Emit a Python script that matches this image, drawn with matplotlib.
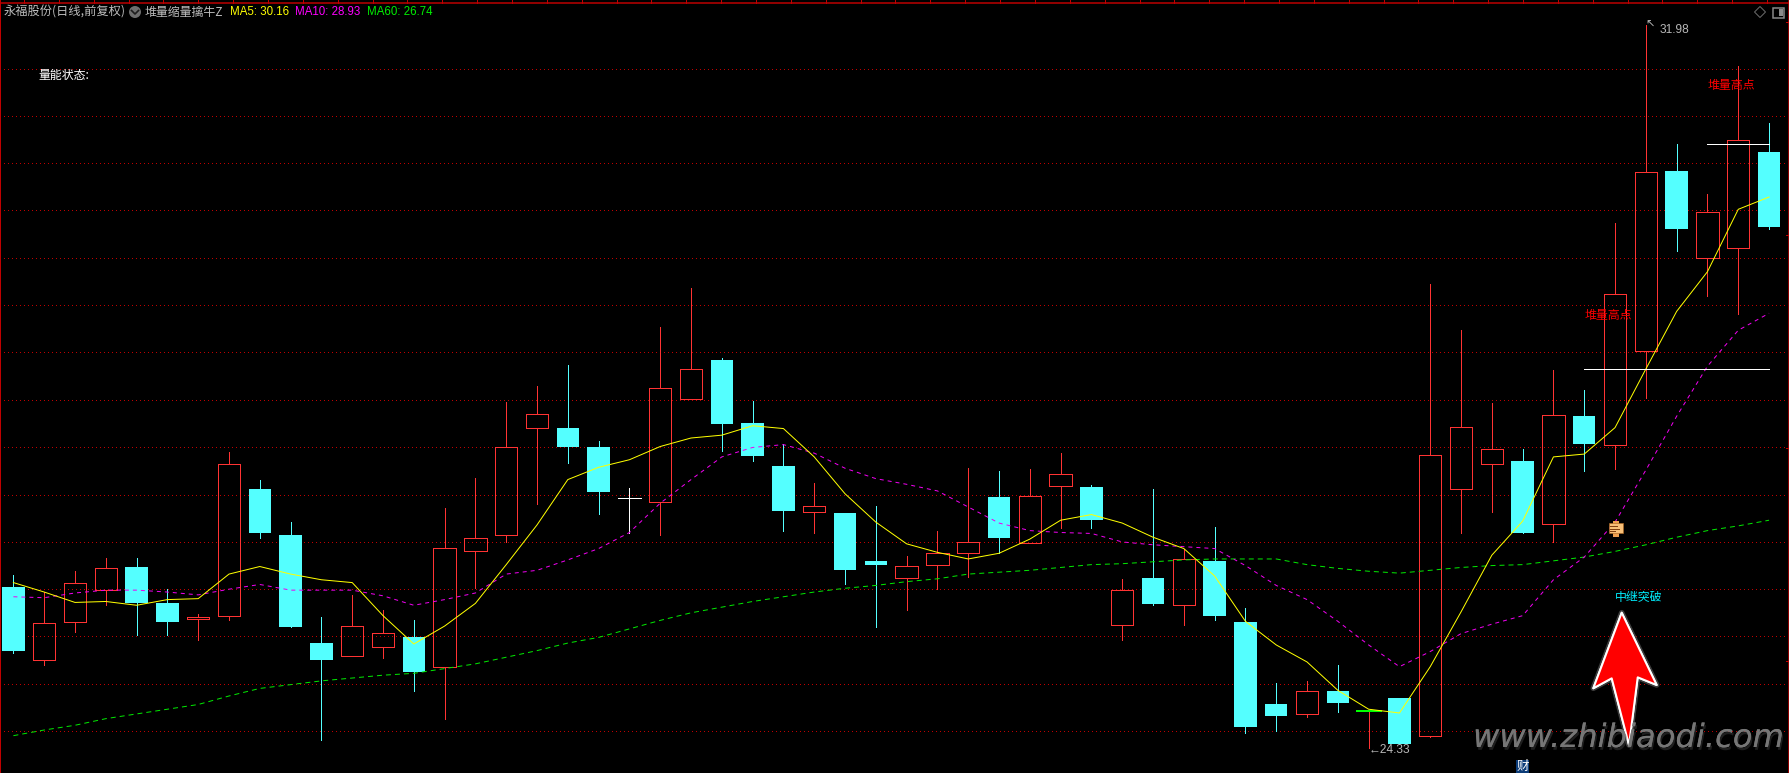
import matplotlib
matplotlib.use("Agg")
import matplotlib.pyplot as plt
import matplotlib.patheffects as pe
from matplotlib.patches import Circle, Polygon, Rectangle
import numpy as np

plt.rcParams['font.family'] = ['Noto Sans CJK SC', 'DejaVu Sans']

# daily bars (body top / body bottom, up = hollow red)
highs = [26.16, 25.98, 26.20, 26.34, 26.34, 26.01, 25.75, 27.46, 27.17, 26.72,
         25.72, 25.95, 25.79, 25.68, 26.87, 27.19, 27.99, 28.16, 28.38, 27.58,
         27.08, 28.78, 29.20, 28.46, 28.00, 27.55, 27.13, 26.82, 26.89, 26.36,
         26.63, 27.29, 27.26, 27.28, 27.45, 27.11, 26.12, 27.07, 26.44, 26.67,
         25.81, 25.02, 25.04, 25.21, 24.72, 24.86, 29.24, 28.75, 27.98, 27.49,
         28.33, 28.12, 29.88, 31.98, 30.72, 30.19, 31.55, 30.94]
body_top = [26.03, 25.65, 26.08, 26.23, 26.25, 25.86, 25.72, 27.34, 27.07, 26.58,
            25.44, 25.62, 25.55, 25.50, 26.45, 26.55, 27.51, 27.86, 27.72, 27.52,
            26.98, 28.14, 28.34, 28.44, 27.77, 27.31, 26.89, 26.82, 26.31, 26.26,
            26.39, 26.51, 26.99, 27.00, 27.23, 27.09, 26.00, 26.13, 26.33, 26.31,
            25.66, 24.80, 24.93, 24.93, 24.72, 24.86, 27.43, 27.73, 27.49, 27.37,
            27.85, 27.84, 29.13, 30.43, 30.44, 30.00, 30.76, 30.64]
body_bot = [25.36, 25.26, 25.66, 26.00, 25.86, 25.66, 25.69, 25.73, 26.60, 25.61,
            25.26, 25.30, 25.40, 25.13, 25.19, 26.41, 26.58, 27.72, 27.52, 27.04,
            26.98, 26.93, 28.02, 27.76, 27.42, 26.84, 26.83, 26.21, 26.27, 26.13,
            26.27, 26.39, 26.55, 26.50, 27.10, 26.74, 25.63, 25.85, 25.84, 25.73,
            24.55, 24.67, 24.69, 24.81, 24.72, 24.37, 24.46, 27.07, 27.34, 26.60,
            26.70, 27.55, 27.54, 28.53, 29.82, 29.51, 29.62, 29.84]
lows = [25.33, 25.21, 25.56, 25.84, 25.53, 25.53, 25.47, 25.68, 26.55, 25.61,
        24.41, 25.30, 25.28, 24.93, 24.64, 26.02, 26.51, 26.91, 27.35, 26.81,
        26.60, 26.58, 28.02, 27.47, 27.37, 26.63, 26.60, 26.06, 25.61, 25.79,
        26.01, 26.14, 26.39, 26.50, 26.66, 26.66, 25.47, 25.84, 25.63, 25.68,
        24.49, 24.51, 24.66, 24.71, 24.33, 24.37, 24.45, 26.60, 26.83, 26.60,
        26.51, 27.26, 27.28, 28.03, 29.59, 29.11, 28.92, 29.82]
# u = up, d = down, w = white doji, g = green doji
kinds = ["d", "u", "u", "u", "d", "d", "u", "u", "d", "d",
         "d", "u", "u", "d", "u", "u", "u", "u", "d", "d",
         "w", "u", "u", "d", "d", "d", "u", "d", "d", "u",
         "u", "u", "d", "u", "u", "d", "u", "d", "u", "d",
         "d", "d", "u", "d", "g", "d", "u", "u", "u", "d",
         "u", "d", "u", "u", "d", "u", "u", "d"]

ma5 = [26.08, 25.98, 25.87, 25.88, 25.84, 25.90, 25.91, 26.17, 26.25, 26.17,
       26.11, 26.08, 25.73, 25.43, 25.62, 25.86, 26.27, 26.69, 27.17, 27.30,
       27.38, 27.52, 27.61, 27.64, 27.74, 27.71, 27.41, 27.02, 26.72, 26.49,
       26.40, 26.33, 26.39, 26.54, 26.74, 26.80, 26.71, 26.56, 26.44, 26.15,
       25.67, 25.42, 25.24, 24.94, 24.74, 24.70, 25.19, 25.77, 26.37, 26.73,
       27.41, 27.44, 27.72, 28.34, 28.95, 29.37, 30.03, 30.16]
ma10 = [25.93, 25.92, 25.97, 26.00, 26.00, 25.98, 25.95, 26.01, 26.06, 26.00,
        26.00, 26.00, 25.94, 25.84, 25.90, 25.97, 26.17, 26.21, 26.32, 26.44,
        26.61, 26.92, 27.17, 27.41, 27.51, 27.54, 27.45, 27.29, 27.18, 27.12,
        27.05, 26.88, 26.71, 26.63, 26.61, 26.60, 26.51, 26.48, 26.46, 26.44,
        26.26, 26.05, 25.90, 25.67, 25.42, 25.19, 25.35, 25.54, 25.64, 25.73,
        26.11, 26.35, 26.72, 27.27, 27.84, 28.37, 28.75, 28.93]
ma60 = [24.46, 24.52, 24.57, 24.64, 24.69, 24.74, 24.79, 24.88, 24.96, 25.00,
        25.04, 25.07, 25.10, 25.12, 25.17, 25.22, 25.29, 25.36, 25.44, 25.50,
        25.59, 25.68, 25.76, 25.82, 25.88, 25.93, 25.98, 26.02, 26.05, 26.09,
        26.12, 26.17, 26.19, 26.21, 26.24, 26.27, 26.28, 26.30, 26.32, 26.33,
        26.33, 26.33, 26.27, 26.23, 26.20, 26.18, 26.21, 26.24, 26.26, 26.27,
        26.31, 26.35, 26.41, 26.48, 26.56, 26.63, 26.68, 26.74]

grid_levels = [31.52, 31.02, 30.52, 30.02, 29.52, 29.02, 28.52, 28.01,
               27.51, 27.01, 26.51, 26.01, 25.51, 25.01, 24.51]
# white support levels of the 堆量高点 signals: level, first bar, last bar
level_lines = [(30.72, 55, 57), (28.34, 51, 57)]

RED = "#ff3333"
CYAN = "#54ffff"
BODY_W = 0.73
PX = 0.72  # one pixel in points at dpi 100

fig = plt.figure(figsize=(17.9, 7.73), dpi=100, facecolor="black")
ax = fig.add_axes([0, 0, 1, 1], facecolor="black")
ax.set_xlim(-0.435, 57.68)
ax.set_ylim(24.065, 32.245)
ax.axis("off")

ax.hlines(grid_levels, -0.3, 57.6, colors="#c00000", lw=PX,
          linestyles=[(0, (1, 3))], antialiased=False, zorder=1)

for i, k in enumerate(kinds):
    top, bot = body_top[i], body_bot[i]
    if k == "d":
        ax.vlines(i, lows[i], highs[i], colors=CYAN, lw=PX, antialiased=False, zorder=2)
        ax.add_patch(Rectangle((i - BODY_W / 2, bot), BODY_W, top - bot, fc=CYAN, ec="none", zorder=3))
    elif k == "u":
        ax.vlines(i, top, highs[i], colors=RED, lw=PX, antialiased=False, zorder=2)
        ax.vlines(i, lows[i], bot, colors=RED, lw=PX, antialiased=False, zorder=2)
        ax.add_patch(Rectangle((i - BODY_W / 2, bot), BODY_W, top - bot, fc="none", ec=RED,
                               lw=PX, antialiased=False, zorder=3))
    elif k == "w":
        ax.vlines(i, lows[i], highs[i], colors="white", lw=PX, antialiased=False, zorder=2)
        ax.hlines(top, i - BODY_W / 2, i + BODY_W / 2, colors="white", lw=PX, antialiased=False, zorder=3)
    else:
        ax.vlines(i, lows[i], highs[i], colors=RED, lw=PX, antialiased=False, zorder=2)
        ax.hlines(top, i - 0.42, i + 0.42, colors="#00ff00", lw=PX * 2, antialiased=False, zorder=3)

x = np.arange(len(ma5))
ax.plot(x, ma60, color="#00e800", lw=PX, ls=(0, (5, 4)), zorder=4)
ax.plot(x, ma10, color="#f000f0", lw=PX, ls=(0, (4, 4)), zorder=5)
ax.plot(x, ma5, color="#ffff00", lw=PX, zorder=6)

for level, first, last in level_lines:
    ax.hlines(level, first, last, colors="white", lw=PX, antialiased=False, zorder=7)

# min / max price flags
ax.text(44.0, 24.31, "←24.33", color="#b8b8b8", fontsize=8.6,
        family=["Liberation Sans", "DejaVu Sans"], va="center", zorder=8)
ax.text(53.0, 31.98, "↖", color="#b8b8b8", fontsize=8, family=["DejaVu Sans"], va="center", zorder=8)
ax.text(53.45, 31.93, "31.98", color="#b8b8b8", fontsize=8.6, family=["Liberation Sans"], va="center", zorder=8)

# everything that sits on the screen and not on the price scale goes on a pixel overlay
ov = fig.add_axes([0, 0, 1, 1], facecolor="none")
ov.set_xlim(0, 1790)
ov.set_ylim(773, 0)
ov.axis("off")

# frame and ruler ticks
ov.plot([0.5, 0.5], [0, 773], color="#c00000", lw=PX * 2)
ov.plot([1789, 1789], [0, 773], color="#c00000", lw=PX * 1.5)
ov.plot([0, 1790], [2.5, 2.5], color="#c00000", lw=PX * 1.5)
for tx in np.arange(24, 1780, 34.86):
    ov.plot([tx, tx], [0, 3], color="#c00000", lw=PX)
for ty in [22, 235, 448, 661]:
    ov.plot([1786, 1789], [ty, ty], color="#c00000", lw=PX)

# header
ov.text(4, 12.5, "永福股份(日线,前复权)", color="#bdbdbd", fontsize=8.8, va="center")
ov.add_patch(Circle((135, 12), 6, fc="#6e6e6e", ec="none"))
ov.plot([131.5, 135, 138.5], [10.5, 14, 10.5], color="#1c1c1c", lw=1.2)
ov.text(145, 12.5, "堆量缩量擒牛Z", color="#bdbdbd", fontsize=8.6, va="center")
ov.text(230, 12, "MA5: 30.16", color="#ffff00", fontsize=8.3, family=["Liberation Sans"], va="center")
ov.text(295, 12, "MA10: 28.93", color="#ff00ff", fontsize=8.3, family=["Liberation Sans"], va="center")
ov.text(367, 12, "MA60: 26.74", color="#00ee00", fontsize=8.3, family=["Liberation Sans"], va="center")
ov.text(38, 75, "量能状态:", color="white", fontsize=8.6, va="center")

# top right buttons
ov.add_patch(Polygon([(1760, 6.5), (1765.5, 12), (1760, 17.5), (1754.5, 12)], fc="none", ec="#6a6a6a", lw=PX))
ov.add_patch(Rectangle((1773.5, 7.5), 11, 10, fc="none", ec="#8a8a8a", lw=PX * 1.5))
ov.add_patch(Rectangle((1779, 9), 4.5, 7, fc="#8a8a8a", ec="none"))

# signal labels
ov.text(1731, 86, "堆量高点", color="#ff0000", fontsize=8.6, ha="center", va="center", zorder=8)
ov.text(1608, 315, "堆量高点", color="#ff0000", fontsize=8.6, ha="center", va="center", zorder=8)
ov.text(1639, 598, "中继突破", color="#00eeff", fontsize=8.6, ha="center", va="center")

# orange marker
ov.add_patch(Rectangle((1613, 521), 6, 3, fc="#f0a050", ec="none", zorder=8))
ov.add_patch(Rectangle((1613, 532), 6, 5, fc="#f0a050", ec="none", zorder=8))
ov.add_patch(Rectangle((1609, 523), 14, 10, fc="#f8c078", ec="#b06820", lw=PX * 0.6, zorder=8))
for ly, lx in [(526, 1617), (528.5, 1619), (531, 1615)]:
    ov.plot([1610, lx], [ly, ly], color="#804010", lw=PX, zorder=9)

# big arrow
arrow = Polygon([(1621.7, 612.7), (1656.7, 685), (1637.7, 677.3), (1629, 745),
                 (1611.7, 678.3), (1593.3, 688.3)], closed=True, fc="#ff0000",
                ec="white", lw=PX * 2, joinstyle="round", zorder=5)
arrow.set_path_effects([pe.withStroke(linewidth=4, foreground="#3c3c3c"), pe.Normal()])
ov.add_patch(arrow)

# watermark
ov.text(1473, 747, "www.zhibiaodi.com", color="#767676", fontsize=23.2,
        family=["DejaVu Sans"], style="italic", va="baseline", zorder=6,
        path_effects=[pe.withSimplePatchShadow(offset=(1, -2), shadow_rgbFace="#444444", alpha=0.45),
                      pe.Normal()])

# finance badge
ov.add_patch(Rectangle((1516, 760), 13, 13, fc="#0c3c78", ec="none", zorder=8))
ov.text(1522.5, 766.5, "财", color="white", fontsize=9, ha="center", va="center", zorder=9)

fig.savefig("out.png", dpi=100, facecolor="black")
